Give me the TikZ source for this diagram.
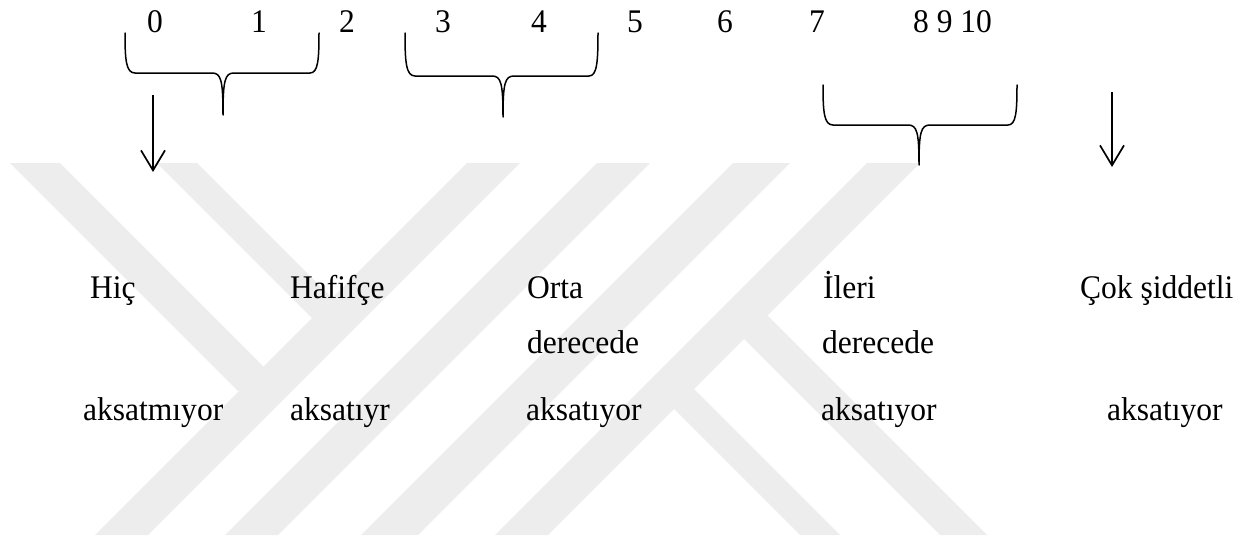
\documentclass[tikz,border=0pt]{standalone}
\usepackage{fontspec}
\setmainfont{Liberation Serif}[FakeStretch=0.955]
\usetikzlibrary{arrows.meta}
\definecolor{wm}{RGB}{237,237,237}
\begin{document}
\begin{tikzpicture}[x=1pt,y=-1pt,
  lbl/.style={font=\fontsize{33}{38}\selectfont, inner sep=0pt, anchor=base west},
  num/.style={font=\fontsize{33}{38}\selectfont, inner sep=0pt, anchor=base},
  bracepath/.style={line width=1.5pt, line join=round, line cap=round},
  arr/.style={line width=1.7pt, -{Straight Barb[length=20pt,width=24pt,line width=1.7pt]}},
  wmark/.style={fill=wm, draw=none}]
\useasboundingbox (0,0) rectangle (1254,538);
% watermark
\fill[wmark] (467,163) -- (520,163) -- (148,535) -- (95,535) -- cycle;
\fill[wmark] (597,163) -- (650,163) -- (278,535) -- (225,535) -- cycle;
\fill[wmark] (733,163) -- (790,163) -- (418,535) -- (361,535) -- cycle;
\fill[wmark] (867,163) -- (920,163) -- (548,535) -- (495,535) -- cycle;
\fill[wmark] (10,163) -- (60,163) -- (263.5,366.5) -- (238.5,391.5) -- cycle;
\fill[wmark] (157,163) -- (197,163) -- (332,298) -- (312,318) -- cycle;
\fill[wmark] (800,535) -- (840,535) -- (694,389) -- (674,409) -- cycle;
\fill[wmark] (940,535) -- (987,535) -- (767.5,315.5) -- (744,339) -- cycle;
% numbers
\node[num] (n0) at (155,32) {0};
\node[num] (n1) at (259,32) {1};
\node[num] (n2) at (347,32) {2};
\node[num] (n3) at (443,32) {3};
\node[num] (n4) at (539,32) {4};
\node[num] (n5) at (635,32) {5};
\node[num] (n6) at (725,32) {6};
\node[num] (n7) at (817,32) {7};
\node[lbl] (n8) at (913,32) {8 9 10};
% braces
\draw[bracepath] (125,33) .. controls (125,60) and (126,73) .. (135,73) -- (212,73)
  .. controls (221,73) and (223,80) .. (223,115)
  .. controls (223,80) and (225,73) .. (234,73) -- (310,73)
  .. controls (318,73) and (319,60) .. (319,33);
\draw[bracepath] (405,33) .. controls (405,62) and (406,76) .. (415,76) -- (492,76)
  .. controls (501,76) and (503,83) .. (503,117)
  .. controls (503,83) and (505,76) .. (514,76) -- (589,76)
  .. controls (597,76) and (598,62) .. (598,33);
\draw[bracepath] (823,85) .. controls (823,112) and (824,125) .. (833,125) -- (908,125)
  .. controls (917,125) and (919,132) .. (919,165)
  .. controls (919,132) and (921,125) .. (930,125) -- (1008,125)
  .. controls (1016,125) and (1017,112) .. (1017,85);
% arrows
\coordinate (a1s) at (153,95);
\coordinate (a1e) at (153,172);
\coordinate (a2s) at (1112,92);
\coordinate (a2e) at (1112,167);
\draw[arr] (a1s) -- (a1e);
\draw[arr] (a2s) -- (a2e);
% labels
\node[lbl] (hic) at (90,298) {Hiç};
\node[lbl] (haf) at (290,298) {Hafifçe};
\node[lbl] (orta) at (527,298) {Orta};
\node[lbl] (ileri) at (823,298) {İleri};
\node[lbl] (cok) at (1080,298) {Çok şiddetli};
\node[lbl] (der1) at (527,353) {derecede};
\node[lbl] (der2) at (822,353) {derecede};
\node[lbl] (ak1) at (83,420) {aksatmıyor};
\node[lbl] (ak2) at (290,420) {aksatıyr};
\node[lbl] (ak3) at (526,420) {aksatıyor};
\node[lbl] (ak4) at (821,420) {aksatıyor};
\node[lbl] (ak5) at (1107,420) {aksatıyor};
\end{tikzpicture}
\end{document}
